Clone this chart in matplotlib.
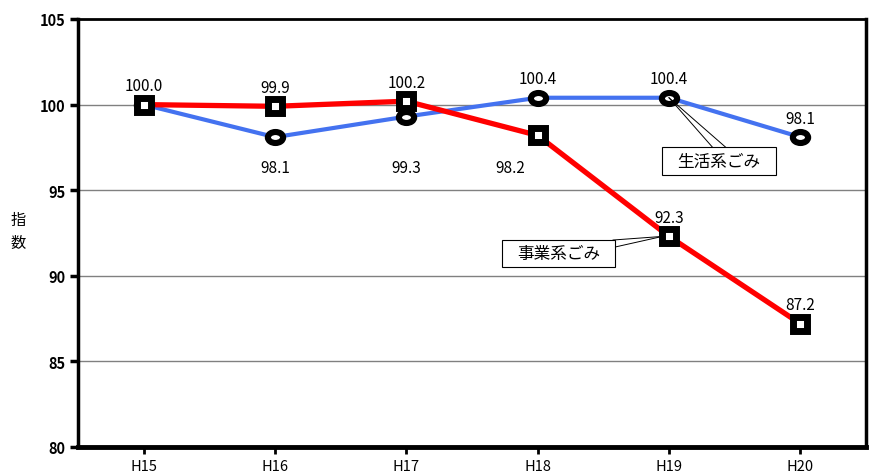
# Index of household vs business waste, H15 = 100
import matplotlib; matplotlib.use("Agg")
import matplotlib.pyplot as plt
from matplotlib.path import Path
from matplotlib.patches import Rectangle
from matplotlib.transforms import Affine2D

plt.rcParams['font.family'] = ['Noto Sans CJK JP', 'DejaVu Sans']

years = ["H15", "H16", "H17", "H18", "H19", "H20"]
jigyo = [100.0, 99.9, 100.2, 98.2, 92.3, 87.2]      # 事業系ごみ
seikatsu = [100.0, 98.1, 99.3, 100.4, 100.4, 98.1]  # 生活系ごみ
jigyo_lab_pos = ["above", "above", "above", "below", "above", "above"]
seikatsu_lab_pos = ["none", "below", "below", "above", "above", "above"]
yticks = [80, 85, 90, 95, 100, 105]

fig = plt.figure(figsize=(8.72, 4.77), dpi=100)
ax = fig.add_axes([78 / 872, 29 / 477, 788 / 872, 428 / 477])
x = list(range(len(years)))

# slightly flattened ring marker
ellipse = Path.unit_circle().transformed(Affine2D().scale(1.0, 0.72))

ax.plot(x, seikatsu, "-", color="#4472f0", lw=3.0, zorder=3)
ax.plot(x, jigyo, "-", color="#ff0000", lw=3.8, zorder=4)
ax.plot(x, seikatsu, marker=ellipse, ls="none", ms=11, mfc="white", mec="black", mew=4.4, zorder=5)
ax.plot(x, jigyo, "s", ms=10.5, mfc="white", mec="black", mew=5.0, zorder=6)

below_y = 96.35
def label(i, v, pos, dx=0.0):
    if pos == "above":
        ax.text(i + dx, v + 1.1, f"{v:.1f}", ha="center", va="center", fontsize=11, zorder=7)
    elif pos == "below":
        ax.text(i + dx, below_y, f"{v:.1f}", ha="center", va="center", fontsize=11, zorder=7)

for i, (v, p) in enumerate(zip(seikatsu, seikatsu_lab_pos)):
    label(i, v, p)
for i, (v, p) in enumerate(zip(jigyo, jigyo_lab_pos)):
    label(i, v, p, dx=-0.21 if p == "below" else 0.0)

# callouts
ax.add_patch(Rectangle((3.947, 95.89), 0.868, 1.63, fc="white", ec="black", lw=0.8, zorder=8))
ax.text(4.381, 96.68, "生活系ごみ", ha="center", va="center", fontsize=12, zorder=9)
ax.plot([4.0, 4.33], [seikatsu[4], 97.52], color="black", lw=0.7, zorder=7)
ax.plot([4.0, 4.43], [seikatsu[4], 97.52], color="black", lw=0.7, zorder=7)
ax.add_patch(Rectangle((2.728, 90.51), 0.861, 1.58, fc="white", ec="black", lw=0.8, zorder=8))
ax.text(3.158, 91.28, "事業系ごみ", ha="center", va="center", fontsize=12, zorder=9)
ax.plot([3.95, 3.574], [jigyo[4], 92.09], color="black", lw=0.7, zorder=7)
ax.plot([3.95, 3.589], [jigyo[4], 91.68], color="black", lw=0.7, zorder=7)

ax.set_xlim(-0.5, 5.5)
ax.set_ylim(80, 105)
ax.set_xticks(x)
ax.set_xticklabels(years, fontsize=10.5)
ax.set_yticks(yticks)
ax.set_yticklabels([str(t) for t in yticks], fontsize=10.5, fontweight="bold")
ax.tick_params(axis="y", direction="out", length=6, width=2.5, pad=3)
ax.tick_params(axis="x", direction="out", length=5, width=2, pad=4)
for t in yticks[1:-1]:
    ax.axhline(t, color="#808080", lw=1, zorder=1)
for s in ["left", "right"]:
    ax.spines[s].set_linewidth(2.5)
ax.spines["bottom"].set_linewidth(3.5)
ax.spines["top"].set_linewidth(2)

fig.text(18 / 872, 1 - 232 / 477, "指\n数", ha="center", va="center", fontsize=11, linespacing=1.4)

fig.savefig("out.png", dpi=100)
